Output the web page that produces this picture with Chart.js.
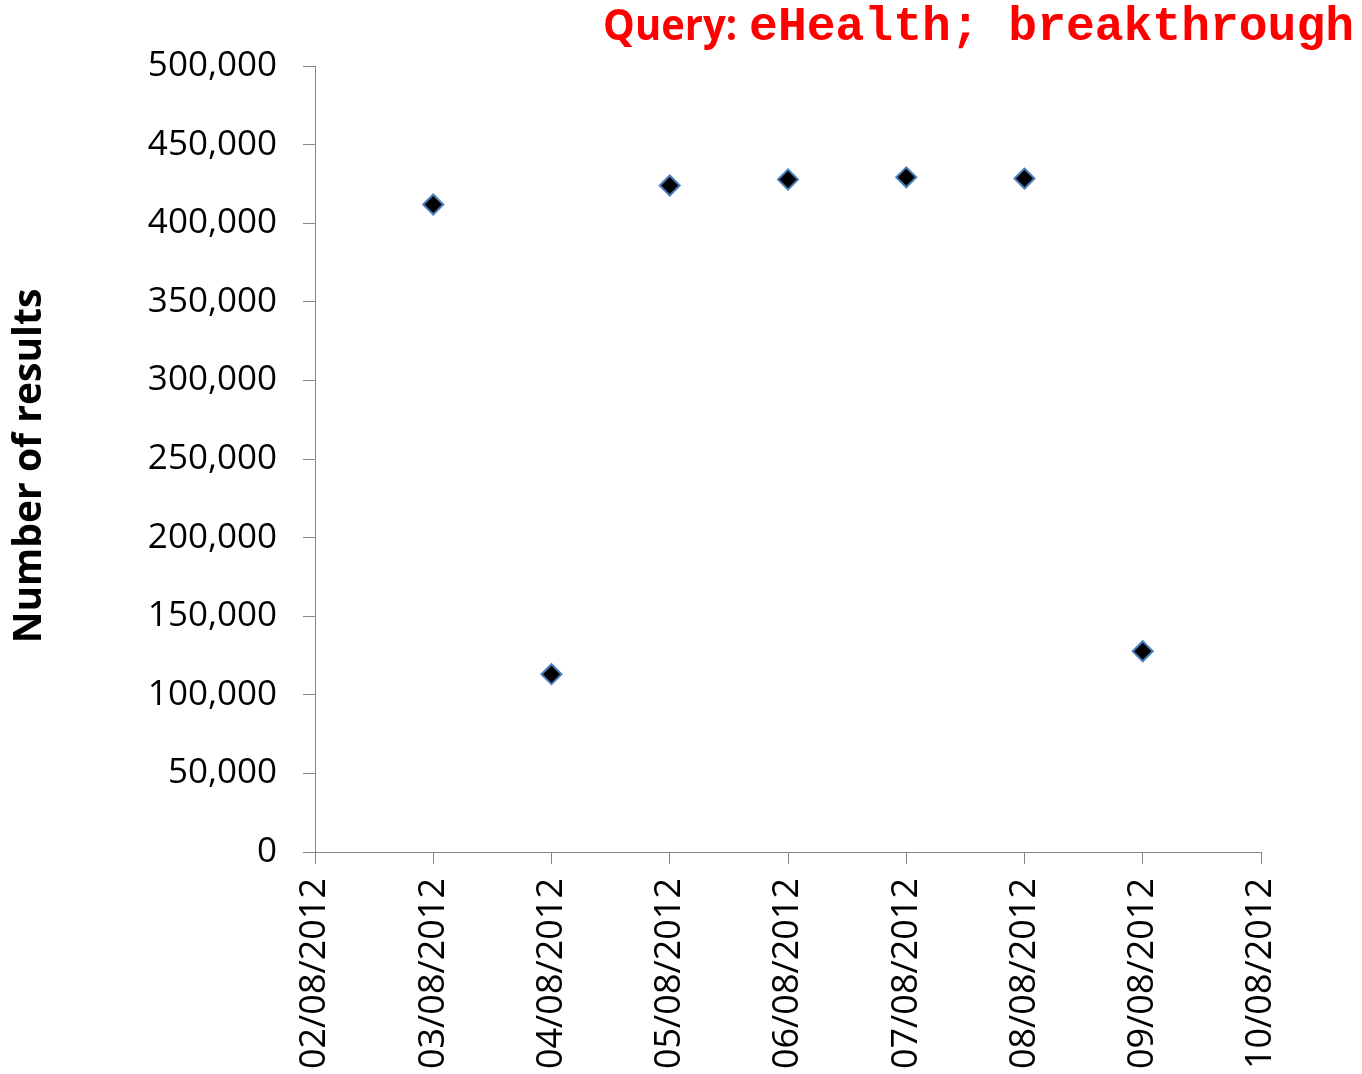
<!DOCTYPE html>
<html>
<head>
<meta charset="utf-8">
<script src="https://cdn.jsdelivr.net/npm/chart.js@4.4.1/dist/chart.umd.min.js"></script>
<style>
  html, body { margin: 0; padding: 0; background: #ffffff; }
  #wrap { width: 1362px; height: 1074px; position: relative; }
</style>
</head>
<body>
<div id="wrap"><canvas id="c" width="1362" height="1074"></canvas></div>
<script>
const dateLabels = ["02/08/2012", "03/08/2012", "04/08/2012", "05/08/2012", "06/08/2012", "07/08/2012", "08/08/2012", "09/08/2012", "10/08/2012"];
const resultCounts = [null, 411900, 113100, 424000, 427800, 429200, 428400, 127700, null];
const yTickValues = [0, 50000, 100000, 150000, 200000, 250000, 300000, 350000, 400000, 450000, 500000];
const titlePrefix = "Query:";
const titleQuery = "eHealth; breakthrough";
const yAxisTitle = "Number of results";

const axisGray = "#868686";

const textPlugin = {
  id: "textPlugin",
  afterDraw(chart) {
    const ctx = chart.ctx;
    ctx.save();
    // Title (right aligned)
    ctx.fillStyle = "#ff0000";
    ctx.textBaseline = "alphabetic";
    ctx.font = "bold 48px 'Liberation Mono', 'DejaVu Sans Mono', monospace";
    const qW = ctx.measureText(titleQuery).width;
    const right = 1354;
    ctx.textAlign = "left";
    ctx.fillText(titleQuery, right - qW, 40);
    ctx.font = "bold 43px 'Open Sans', sans-serif";
    const pW = ctx.measureText(titlePrefix).width;
    ctx.save();
    ctx.translate(right - qW - 12 - pW * 0.93, 40);
    ctx.scale(0.93, 1);
    ctx.fillText(titlePrefix, 0, 0);
    ctx.restore();
    // Y axis title
    ctx.fillStyle = "#000000";
    ctx.font = "bold 39px 'Open Sans', sans-serif";
    ctx.translate(30, 466);
    ctx.rotate(-Math.PI / 2);
    ctx.textAlign = "center";
    ctx.textBaseline = "middle";
    ctx.fillText(yAxisTitle, 0, 0);
    ctx.restore();
  }
};

new Chart(document.getElementById("c"), {
  type: "line",
  data: {
    labels: dateLabels,
    datasets: [{
      data: resultCounts,
      showLine: false,
      pointStyle: "rectRot",
      pointRadius: 10,
      pointHoverRadius: 10,
      pointBackgroundColor: "#000000",
      pointBorderColor: "#4a7ebb",
      pointBorderWidth: 2
    }]
  },
  options: {
    responsive: false,
    animation: false,
    events: [],
    layout: { padding: { top: 66, right: 101, left: 0, bottom: 0 } },
    plugins: { legend: { display: false }, tooltip: { enabled: false }, title: { display: false } },
    scales: {
      x: {
        type: "category",
        offset: false,
        grid: { drawOnChartArea: false, drawTicks: true, tickLength: 12, color: axisGray, offset: false },
        border: { color: axisGray, width: 1 },
        ticks: {
          autoSkip: false,
          minRotation: 90,
          maxRotation: 90,
          padding: 14,
          color: "#000000",
          font: { family: "'Open Sans', sans-serif", size: 36 }
        },
        afterFit(scale) { scale.height = 222; }
      },
      y: {
        min: 0,
        max: 500000,
        afterBuildTicks(scale) { scale.ticks = yTickValues.map(v => ({ value: v })); },
        grid: { drawOnChartArea: false, drawTicks: true, tickLength: 12, color: axisGray },
        border: { color: axisGray, width: 1 },
        ticks: {
          padding: 26,
          color: "#000000",
          font: { family: "'Open Sans', sans-serif", size: 35 },
          callback: (v) => v.toLocaleString("en-US")
        },
        afterFit(scale) { scale.width = 315; }
      }
    }
  },
  plugins: [textPlugin]
});
</script>
</body>
</html>
